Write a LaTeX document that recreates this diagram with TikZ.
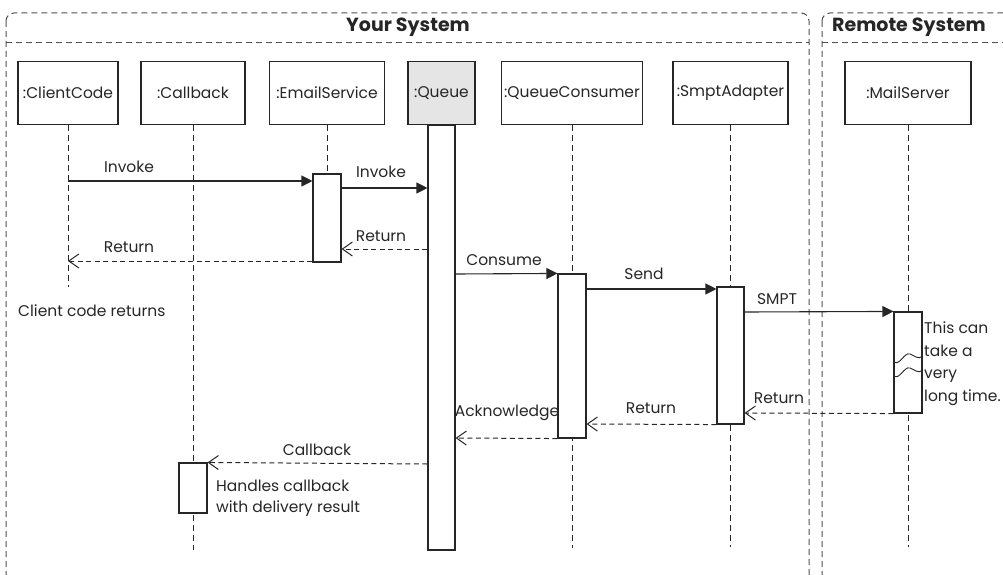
\documentclass[tikz,border=0pt]{standalone}
\usepackage{fontspec}
\setmainfont{Poppins}
\usetikzlibrary{arrows.meta}
\definecolor{ink}{HTML}{262626}
\definecolor{frame}{HTML}{505050}
\definecolor{qfill}{HTML}{E5E5E5}
\begin{document}
\begin{tikzpicture}[x=1pt,y=-1pt,
  every node/.style={font=\fontsize{15.5}{23}\selectfont, text=ink, inner sep=0pt},
  title/.style={font=\fontsize{19}{22}\selectfont\bfseries},
  head/.style={draw=ink, line width=1.1pt, minimum height=63pt, fill=white},
  act/.style={draw=ink, line width=1.1pt, minimum width=28pt, fill=white},
  life/.style={draw=ink, line width=1pt, dash pattern=on 6pt off 4pt},
  sysframe/.style={draw=frame, line width=1pt, dash pattern=on 6pt off 4pt, rounded corners=8pt},
  callmsg/.style={draw=ink, line width=1.1pt, -{Triangle[length=11pt,width=11pt]}},
  retmsg/.style={draw=ink, line width=1pt, dash pattern=on 5pt off 3.5pt, -{Straight Barb[length=10pt,width=14pt,line width=1pt]}},
  note/.style={align=left, anchor=north west}
]
\useasboundingbox (0,0) rectangle (1003,575);
\clip (0,0) rectangle (1003,575);

% frames
\draw[sysframe] (6,13) rectangle (809,600);
\draw[frame, line width=1pt, dash pattern=on 6pt off 4pt] (6,43) -- (809,43);
\node[title] (ystitle) at (408,27) {Your System};
\draw[sysframe] (822,13) rectangle (1030,600);
\draw[frame, line width=1pt, dash pattern=on 6pt off 4pt] (822,43) -- (1030,43);
\node[title] (rstitle) at (909,27) {Remote System};

% lifeline heads
\node[head, minimum width=100pt] (cc) at (68,93) {:ClientCode};
\node[head, minimum width=104pt] (cb) at (193,93) {:Callback};
\node[head, minimum width=115pt] (es) at (327,93) {:EmailService};
\node[head, minimum width=67pt, fill=qfill] (q) at (441.5,93) {:Queue};
\node[head, minimum width=141pt] (qc) at (572,93) {:QueueConsumer};
\node[head, minimum width=115pt] (sa) at (730.5,93) {:SmptAdapter};
\node[head, minimum width=126pt] (ms) at (908,93) {:MailServer};

% lifeline ends
\coordinate (ccend) at (68,287);
\coordinate (cbend) at (193,550);
\coordinate (qcend) at (572,548);
\coordinate (saend) at (730.5,547);
\coordinate (msend) at (908,547);

% lifelines
\draw[life] (cc.south) -- (ccend);
\draw[life] (cb.south) -- (cbend);
\draw[life] (es.south) -- (327,174);
\draw[life] (qc.south) -- (qcend);
\draw[life] (sa.south) -- (saend);
\draw[life] (ms.south) -- (msend);

% activation bars
\node[act, minimum height=88pt] (esact) at (327,218) {};
\node[act, minimum width=27pt, minimum height=425pt] (qact) at (441.5,337.5) {};
\node[act, minimum height=164pt] (qcact) at (572,356) {};
\node[act, minimum width=27pt, minimum height=137pt] (saact) at (730.5,355.5) {};
\node[act, minimum height=101pt] (msact) at (908,362.5) {};
\node[act, minimum height=50pt] (cbact) at (193,488) {};

% break marks on mail server bar
\draw[ink, line width=0.9pt] (894,362) .. controls (900,366) and (904,352) .. (910,354) .. controls (915,356) and (918,360) .. (923,356);
\draw[ink, line width=0.9pt] (894,376) .. controls (900,380) and (904,366) .. (910,368) .. controls (915,370) and (918,374) .. (923,370);

% messages
\draw[callmsg] (cc |- 0,181) -- (esact.west |- 0,181);
\node (l1) at (129,167) {Invoke};
\draw[callmsg] (esact.east |- 0,188) -- (qact.west |- 0,188);
\node (l2) at (381,172) {Invoke};
\draw[retmsg] (qact.west |- 0,249) -- (esact.east |- 0,249);
\node (l3) at (381,236) {Return};
\draw[retmsg] (esact.west |- 0,261) -- (cc |- 0,261);
\node (l4) at (129,247) {Return};
\node[anchor=west] (ccret) at (18,311) {Client code returns};

\draw[callmsg] (qact.east |- 0,274) -- (qcact.north west);
\node (l5) at (504,260) {Consume};
\draw[callmsg] (qcact.east |- 0,289) -- (saact.west |- 0,289);
\node (l6) at (644,274) {Send};
\draw[callmsg] (saact.east |- 0,312) -- (msact.north west);
\node (l7) at (777,299) {SMPT};
\node[note] (longnote) at (924,321) {This can\\take a\\very\\long time.};

\draw[retmsg] (msact.south west) -- (saact.east |- 0,413);
\node (l8) at (779,398) {Return};
\draw[retmsg] (saact.south west) -- (qcact.east |- 0,424);
\node (l9) at (651,408) {Return};
\draw[retmsg] (qcact.south west) -- (qact.east |- 0,438);
\node (l10) at (507,413) {Acknowledge};
\draw[retmsg] (qact.west |- 0,464) -- (cbact.north east);
\node (l11) at (317,450) {Callback};
\node[note, font=\fontsize{15.5}{21}\selectfont] (cbnote) at (216,480) {Handles callback\\with delivery result};
\end{tikzpicture}
\end{document}
